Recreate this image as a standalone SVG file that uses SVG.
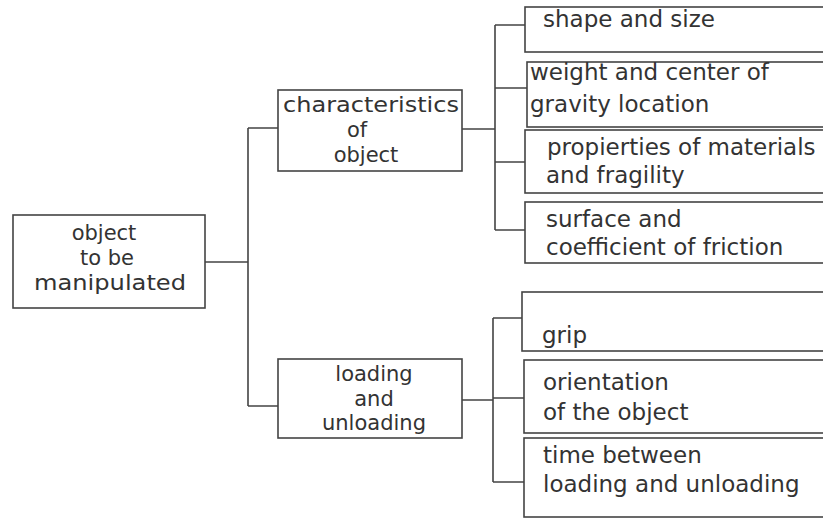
<svg xmlns="http://www.w3.org/2000/svg" width="823" height="518" viewBox="0 0 823 518">
<style>
.box{fill:#fff;stroke:#444;stroke-width:1.6}
.con{fill:none;stroke:#444;stroke-width:1.6}
text{font-family:"DejaVu Sans","Liberation Sans",sans-serif;font-size:23px;fill:#333}
.c{text-anchor:middle;font-size:21px}
</style>
<rect width="823" height="518" fill="#fff"/>
<g id="connectors">
<path class="con" d="M205,262H248M248,128V406M248,128H278M248,406H278"/>
<path class="con" d="M462,129H495M495,25V230M495,25H525M495,88H527M495,162H525M495,230H525"/>
<path class="con" d="M462,400H493M493,318V482M493,318H522M493,398H524M493,482H524"/>
</g>
<g id="root">
<rect class="box" x="13" y="215" width="192" height="93"/>
<text class="c" x="104" y="240">object</text>
<text class="c" x="107" y="265">to be</text>
<text class="c" x="110" y="290" textLength="152" lengthAdjust="spacingAndGlyphs">manipulated</text>
</g>
<g id="characteristics">
<rect class="box" x="278" y="90" width="184" height="81"/>
<text class="c" x="371" y="112" textLength="176" lengthAdjust="spacingAndGlyphs">characteristics</text>
<text class="c" x="357" y="137">of</text>
<text class="c" x="366" y="162">object</text>
</g>
<g id="loading">
<rect class="box" x="278" y="359" width="184" height="79"/>
<text class="c" x="374" y="381">loading</text>
<text class="c" x="374" y="405.5">and</text>
<text class="c" x="374" y="430">unloading</text>
</g>
<g id="shape">
<rect class="box" x="525" y="7" width="310" height="45"/>
<text x="543" y="27">shape and size</text>
</g>
<g id="weight">
<rect class="box" x="527" y="62" width="310" height="65"/>
<text x="530" y="80">weight and center of</text>
<text x="530" y="112">gravity location</text>
</g>
<g id="properties">
<rect class="box" x="525" y="130" width="310" height="63"/>
<text x="547" y="155">propierties of materials</text>
<text x="546" y="183">and fragility</text>
</g>
<g id="surface">
<rect class="box" x="525" y="202" width="310" height="61"/>
<text x="546" y="227">surface and</text>
<text x="546" y="255">coefficient of friction</text>
</g>
<g id="grip">
<rect class="box" x="522" y="292" width="310" height="59"/>
<text x="542" y="343">grip</text>
</g>
<g id="orientation">
<rect class="box" x="524" y="360" width="310" height="73"/>
<text x="543" y="390">orientation</text>
<text x="543" y="420">of the object</text>
</g>
<g id="time">
<rect class="box" x="524" y="438" width="310" height="79"/>
<text x="543" y="463">time between</text>
<text x="543" y="492">loading and unloading</text>
</g>
</svg>
